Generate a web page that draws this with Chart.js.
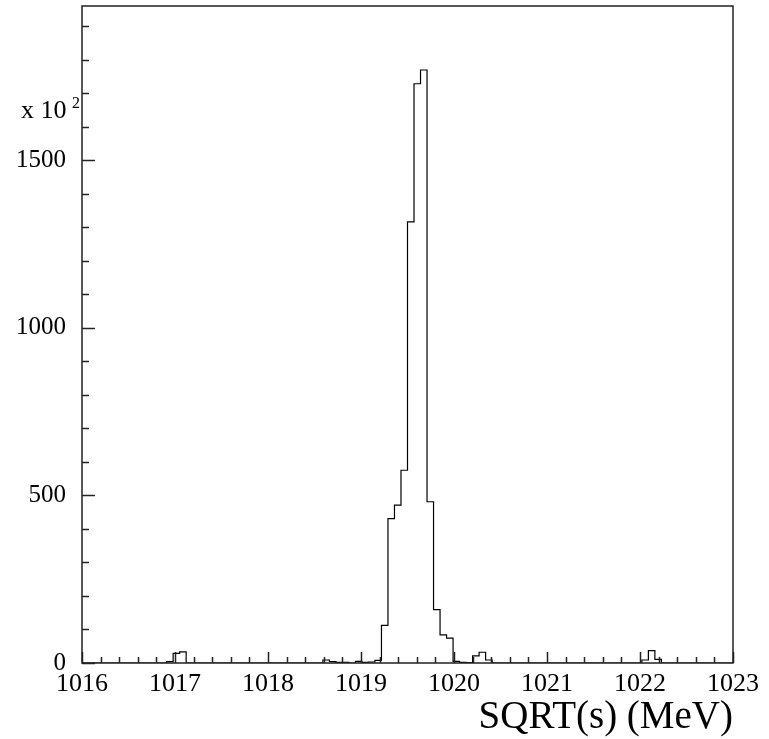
<!DOCTYPE html>
<html>
<head>
<meta charset="utf-8">
<script src="https://cdn.jsdelivr.net/npm/chart.js@4.4.1/dist/chart.umd.min.js"></script>
<style>
  html, body { margin: 0; padding: 0; background: #fff; }
  #wrap { width: 769px; height: 739px; }
</style>
</head>
<body>
<div id="wrap"><canvas id="histo" width="769" height="739"></canvas></div>
<script>
// histogram: 100 bins between 1016 and 1023 MeV
const xMin = 1016;
const xMax = 1023;
const binWidth = 0.07;
const counts = [
  0, 0, 0, 0, 0, 0, 0, 0, 0, 0,
  0, 0, 0, 4, 29, 33, 0, 0, 0, 0,
  0, 0, 0, 0, 0, 0, 0, 0, 0, 0,
  0, 0, 0, 0, 0, 0, 0, 9, 4, 2,
  2, 0, 5, 2, 3, 8, 112, 431, 471, 575,
  1316, 1728, 1769, 481, 159, 84, 74, 5, 2, 1,
  21, 32, 9, 0, 0, 0, 0, 0, 0, 0,
  0, 0, 0, 0, 0, 0, 0, 0, 0, 0,
  0, 0, 0, 0, 0, 0, 9, 37, 11, 0,
  0, 0, 0, 0, 0, 0, 0, 0, 0, 0
];
const yMax = 1960;
const yMajorTicks = [0, 500, 1000, 1500];
const xMajorTicks = [1016, 1017, 1018, 1019, 1020, 1021, 1022, 1023];
const xTitle = 'SQRT(s) (MeV)';

const FONT = 'Liberation Serif';

// bin edges -> stepped outline points
const points = counts.map((c, i) => ({ x: xMin + i * binWidth, y: c }));
points.push({ x: xMax, y: counts[counts.length - 1] });

// frame, inward ticks and the exponent label, ROOT style
const rootFrame = {
    id: 'rootFrame',
    afterDraw(chart) {
        const { ctx, chartArea: a, scales: { x, y } } = chart;
        ctx.save();
        ctx.strokeStyle = '#222';
        ctx.lineWidth = 1.5;
        ctx.strokeRect(a.left, a.top, a.right - a.left, a.bottom - a.top);

        ctx.beginPath();
        for (let v = xMin; v <= xMax + 1e-9; v += 0.2) {
            const px = Math.round(x.getPixelForValue(v)) + 0.5;
            const major = Math.abs(v - Math.round(v)) < 1e-6;
            ctx.moveTo(px, a.bottom);
            ctx.lineTo(px, a.bottom - (major ? 11 : 6));
        }
        for (let v = 0; v <= yMax; v += 100) {
            const py = Math.round(y.getPixelForValue(v)) + 0.5;
            const major = v % 500 === 0;
            ctx.moveTo(a.left, py);
            ctx.lineTo(a.left + (major ? 13 : 7), py);
        }
        ctx.stroke();

        ctx.fillStyle = '#000';
        ctx.textBaseline = 'alphabetic';
        ctx.textAlign = 'left';
        ctx.font = '26px "' + FONT + '"';
        ctx.fillText('x 10', 21, 118);
        ctx.font = '16px "' + FONT + '"';
        ctx.fillText('2', 72, 108);
        ctx.restore();
    }
};

const ctx = document.getElementById('histo').getContext('2d');
new Chart(ctx, {
    type: 'line',
    data: {
        datasets: [{
            data: points,
            stepped: 'before',
            borderColor: '#000',
            borderWidth: 1.2,
            pointRadius: 0,
            fill: false
        }]
    },
    options: {
        responsive: false,
        animation: false,
        devicePixelRatio: 1,
        layout: { padding: { left: 0, top: 6, right: 36, bottom: 0 } },
        plugins: { legend: { display: false }, tooltip: { enabled: false } },
        scales: {
            x: {
                type: 'linear',
                min: xMin,
                max: xMax,
                afterBuildTicks: s => { s.ticks = xMajorTicks.map(v => ({ value: v })); },
                afterFit: s => { s.height = 76; },
                grid: { display: false, drawTicks: false },
                border: { display: false },
                ticks: {
                    autoSkip: false,
                    maxRotation: 0,
                    padding: 6,
                    color: '#000',
                    font: { family: FONT, size: 26 },
                    callback: v => String(v)
                },
                title: {
                    display: true,
                    text: xTitle,
                    align: 'end',
                    color: '#000',
                    padding: 0,
                    font: { family: FONT, size: 39, lineHeight: 1.1 }
                }
            },
            y: {
                min: 0,
                max: yMax,
                afterBuildTicks: s => { s.ticks = yMajorTicks.map(v => ({ value: v })); },
                afterFit: s => { s.width = 82; s.paddingTop = 0; },
                grid: { display: false, drawTicks: false },
                border: { display: false },
                ticks: {
                    autoSkip: false,
                    padding: 16,
                    color: '#000',
                    font: { family: FONT, size: 25 },
                    callback: v => String(v)
                }
            }
        }
    },
    plugins: [rootFrame]
});
</script>
</body>
</html>
